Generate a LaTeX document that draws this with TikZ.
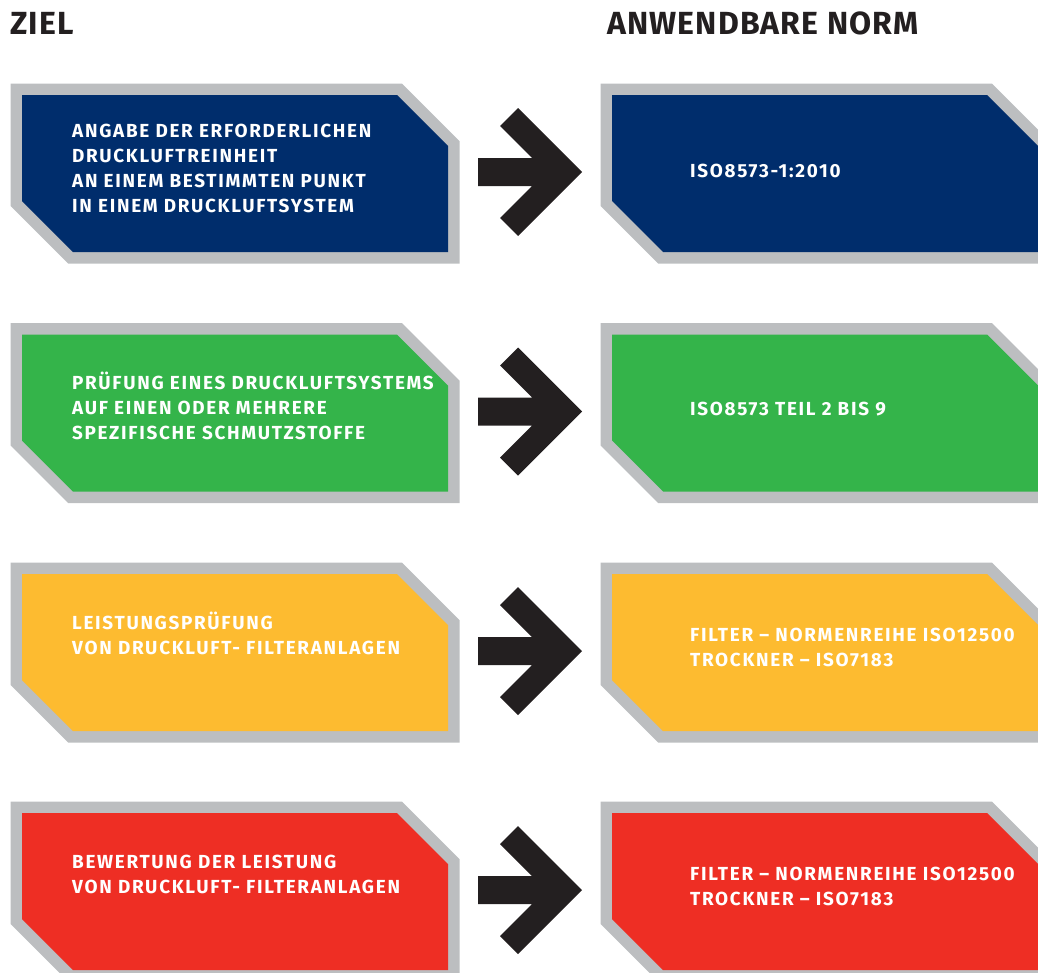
\documentclass[tikz,border=0pt]{standalone}
\usepackage{fontspec}
\setmainfont{Fira Sans}
\newfontfamily\boxfont[LetterSpace=9]{Fira Sans}
\newfontfamily\headfont[LetterSpace=3.5]{Fira Sans}
\usetikzlibrary{calc}

\definecolor{zielnavy}{RGB}{0,45,108}
\definecolor{zielgreen}{RGB}{52,180,74}
\definecolor{zielyellow}{RGB}{253,187,48}
\definecolor{zielred}{RGB}{238,46,36}
\definecolor{framegray}{RGB}{188,190,192}
\definecolor{arrowblack}{RGB}{35,31,32}

\begin{document}
\begin{tikzpicture}[x=1pt,y=-1pt,
    box/.style={rectangle, minimum width=426pt, minimum height=157pt, inner sep=0pt, outer sep=0pt},
    boxtext/.style={anchor=base west, inner sep=0pt, align=left, text=white,
      font=\boxfont\fontsize{18.9pt}{25pt}\selectfont\bfseries},
    heading/.style={anchor=base west, inner sep=0pt, text=arrowblack,
      font=\headfont\fontsize{32pt}{36pt}\selectfont\bfseries}]
        \useasboundingbox (0,0) rectangle (1038,972);

        % Headings
        \node[heading] (ziel) at (10,34) {ZIEL};
        \node[heading] (norm) at (607,34) {ANWENDBARE NORM};

        % Boxes
        \node[box] (ziel1) at (235,173.5) {};
        \node[box] (norm1) at (825,173.5) {};
        \node[box] (ziel2) at (235,413) {};
        \node[box] (norm2) at (825,413) {};
        \node[box] (ziel3) at (235,652.5) {};
        \node[box] (norm3) at (825,652.5) {};
        \node[box] (ziel4) at (235,891.5) {};
        \node[box] (norm4) at (825,891.5) {};

        % Chamfered frames
        \foreach \n/\c in {ziel1/zielnavy,norm1/zielnavy,ziel2/zielgreen,norm2/zielgreen,
                           ziel3/zielyellow,norm3/zielyellow,ziel4/zielred,norm4/zielred}
          \path[preaction={draw=framegray, line width=23pt}, fill=\c]
            (\n.north west) -- ($(\n.north east)+(-51,0)$) -- ($(\n.north east)+(0,51)$)
            -- (\n.south east) -- ($(\n.south west)+(51,0)$) -- ($(\n.south west)+(0,-51)$) -- cycle;

        % Texts
        \node[boxtext] (ziel1text) at ($(ziel1.north west)+(50,117)$)
          {ANGABE DER ERFORDERLICHEN\\DRUCKLUFTREINHEIT\\AN EINEM BESTIMMTEN PUNKT\\IN EINEM DRUCKLUFTSYSTEM};
        \node[boxtext] (norm1text) at ($(norm1.north west)+(78,82)$) {ISO8573-1:2010};
        \node[boxtext] (ziel2text) at ($(ziel2.north west)+(50,105)$)
          {PRÜFUNG EINES DRUCKLUFTSYSTEMS\\AUF EINEN ODER MEHRERE\\SPEZIFISCHE SCHMUTZSTOFFE};
        \node[boxtext] (norm2text) at ($(norm2.north west)+(78,81)$) {ISO8573 TEIL 2 BIS 9};
        \node[boxtext] (ziel3text) at ($(ziel3.north west)+(50,80)$)
          {LEISTUNGSPRÜFUNG\\VON DRUCKLUFT- FILTERANLAGEN};
        \node[boxtext] (norm3text) at ($(norm3.north west)+(78,92)$)
          {FILTER – NORMENREIHE ISO12500\\TROCKNER – ISO7183};
        \node[boxtext] (ziel4text) at ($(ziel4.north west)+(50,80)$)
          {BEWERTUNG DER LEISTUNG\\VON DRUCKLUFT- FILTERANLAGEN};
        \node[boxtext] (norm4text) at ($(norm4.north west)+(78,92)$)
          {FILTER – NORMENREIHE ISO12500\\TROCKNER – ISO7183};

        % Arrows
        \foreach \i in {1,...,4}
          \fill[arrowblack] ($(ziel\i.east)+(30,-15.5)$) -- ++(54,0) -- ++(-32,-32) -- ++(18,-18)
            -- ($(norm\i.west)+(-30,-1.5)$) -- ++(-64,64) -- ++(-18,-18) -- ++(32,-32) -- ++(-54,0) -- cycle;
    \end{tikzpicture}
\end{document}
